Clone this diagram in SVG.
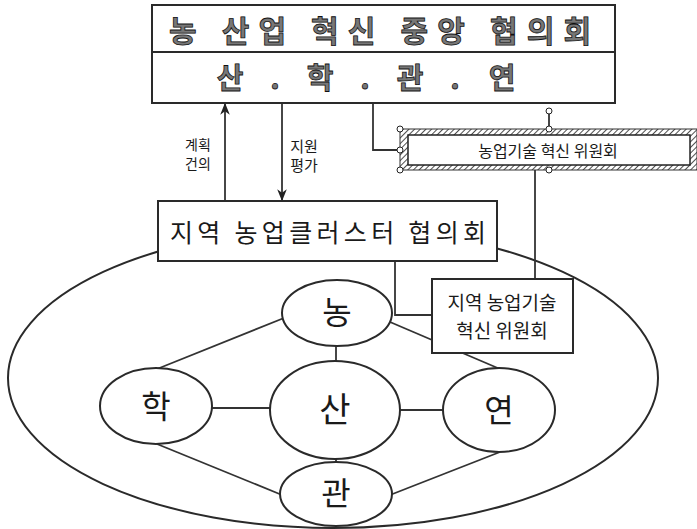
<svg xmlns="http://www.w3.org/2000/svg" width="697" height="529" viewBox="0 0 697 529">
<defs>
<pattern id="hatch" patternUnits="userSpaceOnUse" width="4" height="4" patternTransform="rotate(45)">
<line x1="0" y1="0" x2="0" y2="4" stroke="#222" stroke-width="1.6"/>
</pattern>
<marker id="arr" viewBox="0 0 10 10" refX="9" refY="5" markerWidth="12" markerHeight="12" orient="auto-start-reverse" markerUnits="userSpaceOnUse">
<path d="M0,1 L10,5 L0,9 L3,5 z" fill="#222"/>
</marker>
</defs>
<style>
.box{fill:#fff;stroke:#2a2a2a;stroke-width:2}
.ln{fill:none;stroke:#333;stroke-width:1.8}
.el{fill:#fff;stroke:#2a2a2a;stroke-width:2}
.t{font-family:"Noto Sans CJK KR","Noto Sans",sans-serif;fill:#1a1a1a;text-anchor:middle}
.hd{font-family:"Noto Sans CJK KR","Noto Sans",sans-serif;font-weight:700;fill:#777;stroke:#111;stroke-width:0.8;text-anchor:middle}
.hnd{fill:#fff;stroke:#222;stroke-width:1}
</style>
<rect width="697" height="529" fill="#fff"/>

<g id="region-ellipse">
<ellipse cx="333" cy="378" rx="325" ry="150" fill="none" stroke="#2a2a2a" stroke-width="2"/>
</g>

<g id="connectors">
<path class="ln" d="M284,318 L157,369"/>
<path class="ln" d="M390,322 L500,369"/>
<path class="ln" d="M157,444 L282,495"/>
<path class="ln" d="M500,452 L390,495"/>
<path class="ln" d="M336,345 L336,362"/>
<path class="ln" d="M336,458 L336,463"/>
<path class="ln" d="M211,408 L270,408"/>
<path class="ln" d="M399,410 L444,410"/>
<path class="ln" d="M225,201 L225,104" marker-end="url(#arr)"/>
<path class="ln" d="M282,103 L282,200" marker-end="url(#arr)"/>
<path class="ln" d="M373,103 L373,150 L400,150"/>
<path class="ln" d="M549,111 L549,129"/>
<path class="ln" d="M535,170 L535,279"/>
<path class="ln" d="M395,261 L395,315 L432,315"/>
</g>

<g id="node-nong">
<ellipse class="el" cx="337" cy="313" rx="55" ry="33"/>
<text class="t" x="337" y="324" font-size="32">농</text>
</g>
<g id="node-hak">
<ellipse class="el" cx="156" cy="406" rx="56" ry="38"/>
<text class="t" x="156" y="418" font-size="32">학</text>
</g>
<g id="node-san">
<ellipse class="el" cx="335" cy="410" rx="65" ry="49"/>
<text class="t" x="335" y="422" font-size="34">산</text>
</g>
<g id="node-yeon">
<ellipse class="el" cx="499" cy="410" rx="56" ry="42"/>
<text class="t" x="499" y="422" font-size="32">연</text>
</g>
<g id="node-gwan">
<ellipse class="el" cx="336" cy="494" rx="56" ry="32"/>
<text class="t" x="336" y="505" font-size="32">관</text>
</g>

<g id="node-cluster">
<rect class="box" x="158" y="201" width="339" height="60"/>
<text class="t" x="328" y="242" font-size="25" textLength="316" lengthAdjust="spacing">지역 농업클러스터 협의회</text>
</g>

<g id="node-regional">
<rect class="box" x="432" y="279" width="141" height="74"/>
<text class="t" x="502" y="310" font-size="19">지역 농업기술</text>
<text class="t" x="502" y="338" font-size="19">혁신 위원회</text>
</g>

<g id="node-central">
<rect class="box" x="152" y="5" width="463" height="98"/>
<line x1="152" y1="52" x2="615" y2="52" stroke="#2a2a2a" stroke-width="2"/>
<text class="hd" x="380" y="42" font-size="30" textLength="422" lengthAdjust="spacing">농 산업 혁신 중앙 협의회</text>
<text class="hd" x="230" y="89" font-size="29">산</text>
<text class="hd" x="275" y="89" font-size="29">.</text>
<text class="hd" x="320" y="89" font-size="29">학</text>
<text class="hd" x="365" y="89" font-size="29">.</text>
<text class="hd" x="410" y="89" font-size="29">관</text>
<text class="hd" x="455" y="89" font-size="29">.</text>
<text class="hd" x="502" y="89" font-size="29">연</text>
</g>

<g id="label-plan">
<text class="t" x="198" y="150" font-size="14">계획</text>
<text class="t" x="198" y="169" font-size="14">건의</text>
</g>
<g id="label-support">
<text class="t" x="304" y="152" font-size="15">지원</text>
<text class="t" x="304" y="171" font-size="15">평가</text>
</g>

<g id="node-tech">
<rect x="400" y="129" width="297" height="41" fill="url(#hatch)" stroke="#333" stroke-width="1"/>
<rect x="408" y="135" width="282" height="30" fill="#fff" stroke="#222" stroke-width="1.5"/>
<text class="t" x="548" y="157" font-size="16">농업기술 혁신 위원회</text>
<circle class="hnd" cx="400" cy="129" r="3"/>
<circle class="hnd" cx="400" cy="150" r="3"/>
<circle class="hnd" cx="400" cy="170" r="3"/>
<circle class="hnd" cx="549" cy="129" r="3"/>
<circle class="hnd" cx="549" cy="170" r="3"/>
<circle class="hnd" cx="549" cy="111" r="3"/>
</g>
</svg>
